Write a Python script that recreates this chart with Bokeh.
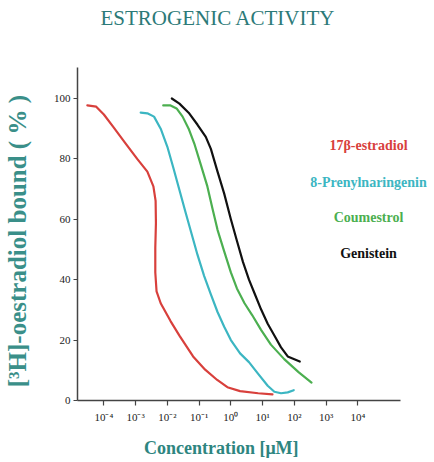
import numpy as np
from bokeh.plotting import figure
from bokeh.models import Range1d, FixedTicker, Label
from bokeh.embed import file_html
from bokeh.resources import INLINE

# ---- data ----
series_names = ["17β-estradiol", "8-Prenylnaringenin", "Coumestrol", "Genistein"]
series_colors = ["#d8403c", "#3cb6c2", "#4caf50", "#111111"]

estradiol_logc = [-4.52, -4.24, -4.0, -3.71, -3.33, -2.95, -2.63, -2.44, -2.37, -2.36, -2.38, -2.38,
                  -2.34, -2.21, -1.90, -1.62, -1.19, -0.81, -0.43, -0.11, 0.29, 0.86, 1.31]
estradiol_bound = [97.7, 97.3, 94.7, 90.7, 85.3, 80.0, 75.8, 70.9, 66.1, 58.8, 50.6, 42.4,
                   36.1, 32.2, 26.3, 21.5, 14.6, 10.2, 6.8, 4.4, 3.1, 2.4, 2.0]

prenyl_logc = [-2.84, -2.63, -2.42, -2.21, -2.0, -1.81, -1.62, -1.43, -1.24, -1.05, -0.84, -0.63,
               -0.42, -0.21, 0.0, 0.29, 0.57, 0.86, 1.16, 1.37, 1.58, 1.79, 1.98]
prenyl_bound = [95.3, 95.1, 94.0, 90.0, 84.0, 77.0, 69.7, 62.4, 55.3, 48.2, 41.2, 35.1,
                29.3, 24.4, 20.0, 15.6, 12.7, 8.8, 4.9, 2.9, 2.4, 2.7, 3.4]

coumestrol_logc = [-2.13, -1.90, -1.71, -1.52, -1.33, -1.14, -0.95, -0.74, -0.58, -0.42, -0.21, 0.0,
                   0.19, 0.43, 0.67, 0.95, 1.26, 1.68, 2.14, 2.54]
coumestrol_bound = [97.7, 97.7, 96.7, 94.0, 90.0, 84.7, 78.2, 70.9, 63.6, 56.5, 49.4, 42.4,
                    37.1, 32.2, 28.3, 23.4, 18.5, 13.7, 9.3, 5.9]

genistein_logc = [-1.86, -1.62, -1.33, -1.05, -0.79, -0.63, -0.42, -0.21, 0.0, 0.19, 0.38, 0.57,
                  0.76, 0.95, 1.16, 1.37, 1.58, 1.79, 2.17]
genistein_bound = [100.0, 98.3, 95.3, 91.3, 87.3, 83.3, 75.8, 68.5, 60.0, 52.9, 45.9, 40.0,
                   35.1, 30.2, 25.4, 21.5, 17.6, 14.6, 12.9]

x_ticks = [1e-4, 1e-3, 1e-2, 1e-1, 1e0, 1e1, 1e2, 1e3, 1e4]
x_tick_labels = ["10⁻⁴", "10⁻³", "10⁻²", "10⁻¹", "10⁰", "10¹", "10²", "10³", "10⁴"]
y_ticks = [0, 20, 40, 60, 80, 100]

title_text = "ESTROGENIC ACTIVITY"
x_label = "Concentration [μM]"
y_label = "[³H]-oestradiol bound ( % )"

# ---- figure ----
X_START, X_AXIS_END, X_END = 10 ** -4.83, 10 ** 5.34, 10 ** 6.35
Y_AXIS_END, Y_END = 110.3, 132.45
p = figure(width=432, height=460, output_backend="svg", toolbar_location=None,
           x_axis_type="log",
           x_range=Range1d(X_START, X_END),
           y_range=Range1d(0, Y_END),
           min_border_left=77, min_border_right=0, min_border_top=0, min_border_bottom=60)

p.outline_line_color = None
p.grid.visible = False
p.background_fill_color = "white"
p.border_fill_color = "white"

# title drawn inside the (extended) frame, above the axis area
p.add_layout(Label(x=10 ** -0.405, y=126.5, text=title_text, text_color="#2c7a78",
                   text_font="Liberation Serif", text_font_size="21px",
                   text_align="center", text_baseline="middle"))

all_series = [
    (estradiol_logc, estradiol_bound),
    (prenyl_logc, prenyl_bound),
    (coumestrol_logc, coumestrol_bound),
    (genistein_logc, genistein_bound),
]
for (lc, b), col in zip(all_series, series_colors):
    xs = [10 ** v for v in lc]
    p.line(xs, b, line_color=col, line_width=2.2, line_join="round", line_cap="round")

# axes
for ax in (p.xaxis[0], p.yaxis[0]):
    ax.axis_line_color = "#444444"
    ax.axis_line_width = 1.5
    ax.major_tick_line_color = "#444444"
    ax.major_tick_line_width = 1.2
    ax.minor_tick_line_color = None
    ax.major_tick_in = 0
    ax.major_label_text_font = "Liberation Serif"
    ax.major_label_text_font_size = "11px"
    ax.major_label_text_color = "#222222"
    ax.axis_label_text_font = "Liberation Serif"
    ax.axis_label_text_font_style = "bold"

p.xaxis.bounds = (X_START, X_AXIS_END)
p.xaxis.ticker = FixedTicker(ticks=x_ticks)
p.xaxis.major_label_overrides = dict(zip(x_ticks, x_tick_labels))
p.xaxis.major_tick_out = 5
p.xaxis.major_label_standoff = 5
p.xaxis.axis_label = x_label + "\u00a0" * 15
p.xaxis.axis_label_text_font_size = "18px"
p.xaxis.axis_label_text_color = "#2e8580"
p.xaxis.axis_label_standoff = 12

p.yaxis.bounds = (0, Y_AXIS_END)
p.yaxis.ticker = FixedTicker(ticks=y_ticks)
p.yaxis.major_tick_out = 4
p.yaxis.major_label_standoff = 3
p.yaxis.axis_label = y_label + "\u00a0" * 13
p.yaxis.axis_label_text_font_size = "25px"
p.yaxis.axis_label_text_color = "#3a8f89"
p.yaxis.axis_label_standoff = 20

# colored series labels
label_x = 10 ** 4.335
label_y = [84.4, 72.2, 60.6, 48.7]
for name, col, ly in zip(series_names, series_colors, label_y):
    p.add_layout(Label(x=label_x, y=ly, text=name, text_color=col,
                       text_font="Liberation Serif", text_font_style="bold",
                       text_font_size="14px", text_align="center", text_baseline="middle"))

open("out.html", "w").write(file_html(p, INLINE))
